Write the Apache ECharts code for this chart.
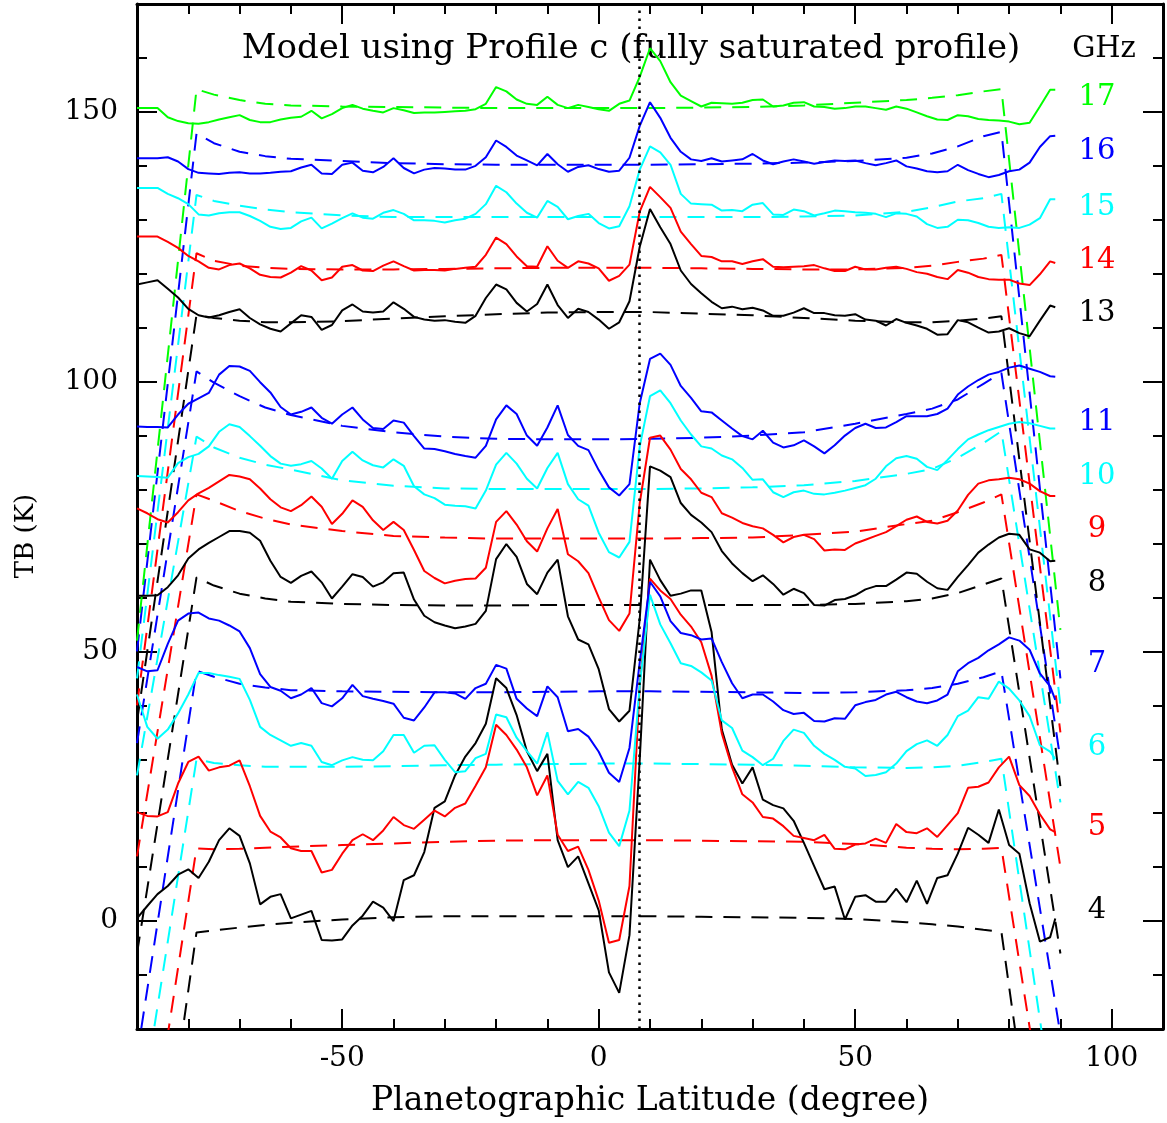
<!DOCTYPE html>
<html><head><meta charset="utf-8">
<script src="https://cdn.jsdelivr.net/npm/echarts@6/dist/echarts.min.js"></script>
<style>html,body{margin:0;padding:0;background:#fff;}#c{width:1167px;height:1123px;}</style>
</head><body><div id="c"></div>
<script>
// ---- observed brightness temperature profiles (latitude grid) ----
const lat = [-90,-88,-86,-84,-82,-80,-78,-76,-74,-72,
 -70,-68,-66,-64,-62,-60,-58,-56,-54,-52,
 -50,-48,-46,-44,-42,-40,-38,-36,-34,-32,
 -30,-28,-26,-24,-22,-20,-18,-16,-14,-12,
 -10,-8,-6,-4,-2,0,2,4,6,8,
 10,12,14,16,18,20,22,24,26,28,
 30,32,34,36,38,40,42,44,46,48,
 50,52,54,56,58,60,62,64,66,68,
 70,72,74,76,78,80,82,84,86,88,89];

const tb4 = [0.5,2.8,5.0,6.5,8.6,9.6,8.0,11.0,15.0,17.2,
 15.8,10.7,3.1,4.5,5.0,0.5,1.2,1.9,-3.5,-3.6,
 -3.4,-0.8,1.0,3.6,2.5,0.0,7.6,8.5,12.8,21.0,
 22.2,27.0,30.5,33.0,36.6,45.0,43.2,38.2,31.5,27.8,
 31.0,15.0,10.0,12.0,7.0,2.0,-9.5,-13.3,-2.6,30.0,
 67.0,63.2,60.3,60.7,61.3,61.3,53.6,35.5,29.0,25.5,
 28.5,22.5,21.5,20.9,18.6,14.5,10.2,5.9,6.4,0.3,
 4.5,4.8,3.6,3.6,6.0,3.5,7.5,3.2,8.0,8.5,
 12.5,17.3,16.0,14.5,20.7,14.1,12.5,3.3,-3.8,-3.0,0.5];

const tb5 = [20.2,19.5,19.4,20.2,25.5,29.5,30.5,27.9,28.5,28.8,
 29.8,25.0,19.5,16.6,15.5,13.5,13.0,13.0,9.0,9.5,
 12.5,15.0,16.1,15.0,16.8,19.3,17.8,17.1,18.8,20.5,
 19.4,21.0,21.8,25.1,28.5,36.4,34.5,31.8,28.5,23.3,
 27.0,16.0,13.0,13.8,9.5,3.8,-4.0,-3.5,6.5,43.7,
 63.5,61.3,59.7,56.8,54.6,51.7,45.5,34.8,28.5,23.5,
 22.0,19.3,19.0,17.6,15.8,15.4,15.0,16.0,13.4,13.3,
 14.2,14.4,15.3,14.5,18.0,16.5,16.3,17.2,15.6,17.8,
 20.0,24.7,24.9,25.7,28.5,30.5,25.2,23.2,19.8,17.0,16.5];

const tb6 = [42.0,36.0,33.8,35.5,38.5,42.0,46.0,46.0,45.6,45.3,
 44.9,41.0,36.0,34.5,33.5,32.5,33.0,32.5,29.5,28.9,
 29.8,30.4,29.9,29.8,31.5,34.5,34.5,31.2,32.5,32.6,
 29.9,27.6,27.8,30.2,31.0,38.3,37.8,34.0,31.5,29.2,
 35.0,26.0,23.5,25.8,24.7,21.3,16.4,13.9,20.5,43.7,
 60.5,55.0,51.5,47.8,47.3,46.1,44.6,37.2,35.8,31.6,
 30.4,28.9,30.1,33.4,35.5,34.9,32.5,31.0,29.9,28.6,
 28.3,26.9,27.1,27.6,29.2,31.5,32.8,33.5,32.5,34.5,
 38.0,39.0,41.5,41.2,44.4,43.1,40.9,38.0,32.6,31.4,30.1];

const tb7 = [47.1,46.3,46.5,51.4,55.7,57.0,57.2,56.1,55.7,54.8,
 53.7,50.6,45.8,43.4,42.7,41.3,42.0,43.2,40.4,39.8,
 41.3,43.8,41.7,41.2,40.8,40.3,37.7,37.2,39.6,42.4,
 42.4,42.2,41.2,43.2,44.0,47.5,46.8,41.2,39.4,38.0,
 43.5,41.5,35.2,35.6,34.2,31.4,27.5,25.8,32.1,48.0,
 62.9,60.2,55.6,53.4,53.0,52.2,52.4,48.0,44.1,41.3,
 42.0,42.0,40.7,39.1,38.4,38.6,37.1,37.0,37.6,37.5,
 40.0,40.6,41.0,42.0,42.5,41.5,40.7,40.4,40.9,42.0,
 46.3,47.8,48.8,50.2,51.3,52.6,52.0,50.3,45.9,43.5,41.0];

const tb8 = [60.3,60.3,60.4,61.9,64.1,67.2,68.9,70.1,71.2,72.3,
 72.3,72.0,70.5,66.8,63.8,62.7,64.0,64.8,62.8,59.8,
 62.0,64.3,63.8,62.0,62.8,64.5,64.6,59.6,56.6,55.4,
 54.8,54.3,54.6,55.1,57.5,67.1,69.9,67.5,62.5,60.6,
 64.6,67.0,56.5,52.2,51.3,46.7,39.3,37.0,39.0,56.0,
 84.3,83.5,82.3,77.5,75.3,73.9,72.1,68.6,66.3,64.5,
 63.0,64.1,62.5,60.5,61.6,60.8,58.6,58.5,59.5,59.7,
 60.4,61.5,62.1,62.1,63.3,64.6,64.4,62.9,61.7,61.4,
 63.8,66.0,68.3,69.8,71.1,71.8,71.6,68.9,68.3,66.7,66.8];

const tb9 = [76.5,75.6,74.5,73.9,75.8,78.0,79.3,80.3,81.5,82.7,
 82.4,81.9,80.2,78.2,76.7,76.0,77.1,78.7,76.8,73.6,
 75.5,78.0,76.8,74.3,72.5,74.0,72.5,68.8,64.9,63.6,
 62.6,63.1,63.4,63.5,65.5,74.0,76.0,73.5,70.4,68.5,
 72.8,76.4,68.0,66.7,64.5,60.0,55.8,53.8,57.0,77.5,
 89.6,90.0,87.4,83.8,81.9,79.4,78.6,75.6,74.8,73.8,
 73.2,72.8,71.6,70.2,71.2,71.6,70.8,68.7,68.9,68.8,
 70.0,70.7,71.4,72.1,73.2,74.4,75.0,74.0,73.7,74.2,
 76.1,79.0,81.1,81.7,81.9,82.2,81.9,81.1,79.7,78.8,78.8];

const tb10 = [82.5,82.4,82.3,82.2,84.9,86.0,86.6,88.0,90.7,92.1,
 91.6,89.9,88.1,86.2,84.8,84.4,84.7,85.3,83.9,82.0,
 85.3,87.0,85.4,84.5,84.1,85.6,84.4,80.6,79.1,78.4,
 77.2,77.0,76.9,76.5,79.8,84.6,86.8,84.8,82.0,80.2,
 84.0,86.8,81.0,78.2,77.0,72.0,68.4,67.4,70.3,88.0,
 97.3,98.4,96.0,92.8,90.2,88.0,87.6,86.3,85.6,84.0,
 81.8,81.9,79.5,78.6,79.5,79.8,79.2,79.1,79.4,79.8,
 80.3,80.8,82.0,84.3,85.8,86.2,85.7,84.2,83.6,85.5,
 87.5,89.3,90.2,91.0,91.6,92.2,92.5,92.3,91.8,91.3,91.3];

const tb11 = [91.7,91.6,91.6,91.5,93.9,95.9,96.9,97.9,101.3,102.9,
 102.8,102.0,99.9,98.0,95.3,93.9,94.4,95.2,93.3,92.2,
 93.9,95.2,93.0,91.4,91.2,92.8,92.4,89.9,87.6,87.5,
 87.1,86.6,86.2,85.9,88.1,93.0,95.6,94.0,90.0,88.1,
 91.5,95.6,90.1,88.1,87.3,83.6,80.4,78.9,81.0,96.0,
 104.2,105.2,103.1,99.2,97.0,94.5,94.3,92.8,91.3,89.9,
 89.3,90.9,88.7,87.8,88.2,89.1,88.0,86.7,88.2,90.0,
 91.4,92.2,91.4,91.5,92.5,93.6,93.6,93.6,94.0,95.0,
 97.6,99.1,100.3,101.3,101.8,102.6,103.0,102.4,101.8,101.0,100.9];

const tb13 = [118.0,118.4,118.8,117.2,115.6,113.5,112.3,111.9,112.3,112.9,
 113.4,111.8,110.6,109.8,109.3,110.8,112.3,112.0,109.6,110.5,
 113.2,114.3,113.0,112.8,113.0,114.7,113.5,112.0,111.5,111.3,
 111.4,111.1,110.9,112.2,115.5,118.0,117.1,114.6,113.0,114.4,
 118.0,114.2,111.8,113.5,112.9,111.5,109.8,111.0,114.9,125.0,
 132.0,128.6,125.5,120.6,118.1,116.4,114.8,113.6,113.9,113.4,
 113.7,113.2,112.2,112.2,112.8,113.6,112.7,112.7,112.3,112.2,
 112.5,111.5,111.3,110.4,111.6,110.9,110.4,109.8,108.7,108.8,
 111.4,111.0,110.0,109.1,109.3,109.9,109.0,108.4,111.3,114.1,113.8];

const tb14 = [126.9,126.9,126.9,125.9,124.8,123.3,122.3,121.1,120.8,121.6,
 121.9,121.0,119.8,119.4,119.3,120.2,121.4,120.6,118.8,119.3,
 121.3,121.6,120.6,120.5,121.5,122.3,121.4,120.6,120.7,120.7,
 120.6,120.9,121.1,121.3,123.5,126.7,125.5,123.2,121.4,121.3,
 125.1,122.4,121.1,122.3,121.9,121.0,118.7,119.6,121.7,131.5,
 136.1,134.2,132.2,127.8,125.5,123.3,123.1,122.3,122.3,121.8,
 122.3,122.7,121.3,121.2,121.3,121.4,121.6,121.0,120.5,120.5,
 121.3,120.8,120.8,121.1,121.3,120.9,120.3,120.0,119.4,119.0,
 120.7,120.2,119.4,119.0,118.9,118.9,118.2,117.9,119.9,122.3,122.0];

const tb15 = [135.9,135.9,135.9,134.8,134.0,132.9,131.0,130.8,131.2,131.4,
 131.4,130.7,129.8,128.7,128.3,128.5,129.7,130.4,128.4,129.3,
 130.3,131.2,130.4,130.2,131.3,131.8,131.1,129.9,129.9,129.8,
 129.5,129.9,130.2,131.1,132.9,136.3,135.1,133.0,131.3,130.4,
 133.5,132.4,130.1,130.7,131.1,129.4,128.4,128.8,132.5,139.3,
 143.6,142.5,140.2,134.8,133.0,132.9,132.8,131.7,131.8,131.6,
 132.8,133.1,131.0,130.9,131.9,131.6,130.8,131.2,131.7,131.6,
 131.4,131.3,131.1,130.5,131.2,131.1,130.6,129.2,128.5,128.7,
 130.0,129.9,129.4,128.7,128.5,128.6,128.5,129.1,130.3,133.8,133.8];

const tb16 = [141.4,141.4,141.4,141.6,140.8,139.4,138.7,138.6,138.5,138.7,
 138.8,138.6,138.6,138.7,138.9,139.0,139.7,140.2,138.6,138.5,
 140.2,140.6,139.1,138.8,139.8,141.4,139.6,138.6,139.3,139.6,
 139.5,139.3,139.3,140.0,141.6,144.7,143.5,141.9,141.0,140.1,
 142.2,140.3,138.9,139.8,140.1,139.4,138.9,139.1,141.5,147.4,
 151.8,148.9,145.2,142.6,141.2,140.9,141.4,140.8,141.0,141.2,
 142.2,141.0,140.3,140.8,141.2,140.8,140.4,140.7,141.0,140.9,
 141.0,140.5,140.1,140.5,141.0,139.9,139.5,139.0,138.8,139.0,
 140.2,139.2,138.5,137.9,138.3,139.0,139.3,140.6,143.5,145.5,145.6];

const tb17 = [150.7,150.7,150.7,149.0,148.3,147.9,147.8,148.1,148.6,149.0,
 149.4,148.5,148.1,148.1,148.6,148.9,149.1,150.2,148.8,149.6,
 150.7,151.3,150.6,150.2,149.9,150.7,150.3,149.8,149.9,149.9,
 150.0,150.1,150.2,150.5,151.5,154.6,153.8,152.3,151.5,151.3,
 152.8,151.3,150.7,151.3,150.9,150.5,150.2,151.5,152.1,156.5,
 161.8,159.4,155.5,153.0,152.0,151.0,151.7,151.6,151.5,151.7,
 152.2,152.3,151.0,151.2,151.7,151.8,151.0,150.9,150.6,150.7,
 151.0,151.0,150.7,150.4,151.0,150.6,149.9,149.2,148.6,148.5,
 149.4,149.2,148.7,148.5,148.4,148.2,147.7,148.0,151.0,154.1,154.1];

// ---- model (profile c) curves ----
const modelLat = [-90,-78.4,-75,-70,-65,-60,-50,-40,-30,-20,-10,0,10,20,30,40,50,60,65,70,75,78.5,90];
const m4  = [-80,-2.1,-1.7,-1.2,-0.7,-0.3,0.3,0.7,0.9,0.9,0.9,0.9,0.9,0.8,0.7,0.6,0.4,-0.2,-0.6,-1.0,-1.6,-2.0,-80];
const m5  = [-58,13.5,13.3,13.4,13.6,13.8,14.1,14.4,14.7,14.9,15.0,15.0,15.0,14.9,14.8,14.7,14.3,13.6,13.4,13.3,13.4,13.6,-56];
const m6  = [-40,30.0,29.3,28.9,28.6,28.6,28.6,28.7,28.9,29.0,29.1,29.2,29.2,29.1,29.0,28.8,28.5,28.4,28.5,28.8,29.5,30.1,-44];
const m7  = [-25,46.4,45.3,44.0,43.3,42.8,42.6,42.5,42.4,42.4,42.5,42.6,42.6,42.5,42.4,42.3,42.4,42.8,43.2,44.0,45.2,46.3,-21];
const m8  = [-6,63.7,62.2,60.7,59.8,59.2,58.8,58.6,58.5,58.5,58.6,58.6,58.6,58.6,58.6,58.6,58.8,59.3,59.8,60.8,62.4,63.5,-6];
const m9  = [12,79.1,77.9,76.0,74.6,73.5,72.3,71.4,71.1,70.9,70.9,70.9,70.9,71.0,71.1,71.6,72.2,73.6,74.2,75.8,77.6,79.1,10];
const m10 = [27,89.8,87.8,85.9,84.6,83.7,81.7,80.7,80.2,80.1,80.1,80.1,80.1,80.2,80.4,80.8,81.6,82.9,83.8,85.9,88.6,90.8,22];
const m11 = [33,101.9,99.8,97.3,95.2,93.8,91.8,90.6,89.8,89.4,89.3,89.3,89.4,89.6,90.0,90.6,92.2,94.0,95.0,96.7,99.6,101.6,30];
const m13 = [37,112.4,111.8,111.3,111.0,111.0,111.2,111.7,112.1,112.5,112.8,112.9,112.9,112.6,112.3,111.8,111.3,111.0,111.0,111.3,111.7,112.1,25];
const m14 = [40,123.8,122.4,121.5,121.1,120.9,120.8,120.8,120.9,121.0,121.1,121.1,121.1,121.0,120.9,120.8,120.8,121.1,121.5,122.2,122.8,123.5,35];
const m15 = [45,134.6,133.5,132.6,131.9,131.4,130.8,130.5,130.5,130.5,130.5,130.5,130.5,130.5,130.5,130.6,130.8,131.5,132.3,133.4,134.0,134.8,40];
const m16 = [50,146.0,144.2,142.6,141.8,141.3,140.9,140.5,140.3,140.2,140.2,140.2,140.2,140.3,140.4,140.6,140.9,141.5,142.3,143.6,145.5,146.3,45];
const m17 = [52,154.2,153.2,152.2,151.5,151.2,151.0,150.9,150.8,150.7,150.7,150.7,150.7,150.8,150.9,151.2,151.7,152.2,152.6,153.1,153.8,154.2,54];

// ---- labels & ticks ----
const freqLabels = ['4','5','6','7','8','9','10','11','13','14','15','16','17'];
const xTicks = [-50, 0, 50, 100];
const yTicks = [0, 50, 100, 150];
const equatorLat = 8;
const titleText = 'Model using Profile c (fully saturated profile)';
const xName = 'Planetographic Latitude (degree)';
const yName = 'TB (K)';
const unitText = 'GHz';

const K='#000000', R='#ff0000', C='#00ffff', B='#0000ff', G='#00ff00';
const obs = [tb4,tb5,tb6,tb7,tb8,tb9,tb10,tb11,tb13,tb14,tb15,tb16,tb17];
const mods = [m4,m5,m6,m7,m8,m9,m10,m11,m13,m14,m15,m16,m17];
const cols = [K,R,C,B,K,R,C,B,K,R,C,B,G];
// label centre positions (pixels) on the right margin
const labelY = [910,827,747,664,583,529,476,422,313,260,207,151,97];

const SERIF = '"DejaVu Serif", serif';
const series = [];
mods.forEach((m,k)=>{
  series.push({type:'line', name:freqLabels[k]+' model', data:modelLat.map((x,i)=>[x,m[i]]),
    symbol:'none', showSymbol:false, animation:false, silent:true, clip:true,
    lineStyle:{color:cols[k], width:2, type:[17,11]}, z:2});
});
obs.forEach((v,k)=>{
  const s = {type:'line', name:freqLabels[k], data:lat.map((x,i)=>[x,v[i]]),
    symbol:'none', showSymbol:false, animation:false, silent:true, clip:true,
    lineStyle:{color:cols[k], width:2}, z:3};
  if(k===0){
    s.markLine = {silent:true, symbol:['none','none'], animation:false, label:{show:false},
      lineStyle:{color:'#000', width:2.5, type:[2.5,5.5]}, data:[{xAxis:equatorLat}]};
  }
  series.push(s);
});

const lineStyleAxis = {color:'#000', width:3};
function xAx(pos, major, showLabel){
  const a = {type:'value', min:-90, max:110, position:pos, gridIndex:0,
    axisLine:{show:major, onZero:false, lineStyle:lineStyleAxis},
    splitLine:{show:false}};
  if(major){
    a.axisTick = {show:true, inside:true, length:20, customValues:xTicks, lineStyle:{color:'#000', width:2}};
    a.axisLabel = {show:showLabel, customValues:xTicks, margin:16, fontSize:28, fontFamily:SERIF, color:'#000'};
  } else {
    a.interval = 10;
    a.axisTick = {show:true, inside:true, length:10, lineStyle:{color:'#000', width:2}};
    a.axisLabel = {show:false};
  }
  return a;
}
function yAx(pos, major, showLabel){
  const a = {type:'value', min:-20, max:170, position:pos, gridIndex:0,
    axisLine:{show:major, onZero:false, lineStyle:lineStyleAxis},
    splitLine:{show:false}};
  if(major){
    a.axisTick = {show:true, inside:true, length:20, customValues:yTicks, lineStyle:{color:'#000', width:2}};
    a.axisLabel = {show:showLabel, customValues:yTicks, margin:19, fontSize:28, fontFamily:SERIF, color:'#000'};
  } else {
    a.interval = 10;
    a.axisTick = {show:true, inside:true, length:10, lineStyle:{color:'#000', width:2}};
    a.axisLabel = {show:false};
  }
  return a;
}
const xAxes = [xAx('bottom',true,true), xAx('bottom',false,false), xAx('top',true,false), xAx('top',false,false)];
xAxes[0].name = xName; xAxes[0].nameLocation='middle'; xAxes[0].nameGap=56;
xAxes[0].nameTextStyle = {fontSize:33, fontFamily:SERIF, color:'#000'};
const yAxes = [yAx('left',true,true), yAx('left',false,false), yAx('right',true,false), yAx('right',false,false)];

const graphic = [
  {type:'text', x:631, y:49, style:{text:titleText, fontSize:34, fontFamily:SERIF, fill:'#000', align:'center', verticalAlign:'middle'}},
  {type:'text', x:1104, y:49, style:{text:unitText, fontSize:29, fontFamily:SERIF, fill:'#000', align:'center', verticalAlign:'middle'}},
  {type:'text', x:26, y:536, rotation:Math.PI/2, style:{text:yName, fontSize:26, fontFamily:SERIF, fill:'#000', align:'center', verticalAlign:'middle'}}
];
freqLabels.forEach((f,k)=>{
  graphic.push({type:'text', x:1097, y:labelY[k], style:{text:f, fontSize:29, fontFamily:SERIF, fill:cols[k], align:'center', verticalAlign:'middle'}});
});

const chart = echarts.init(document.getElementById('c'), null, {renderer:'canvas'});
chart.setOption({
  animation:false,
  backgroundColor:'#ffffff',
  grid:{left:137, right:4, top:4, bottom:92, containLabel:false},
  xAxis:xAxes,
  yAxis:yAxes,
  series:series,
  graphic:graphic
});
</script></body></html>
